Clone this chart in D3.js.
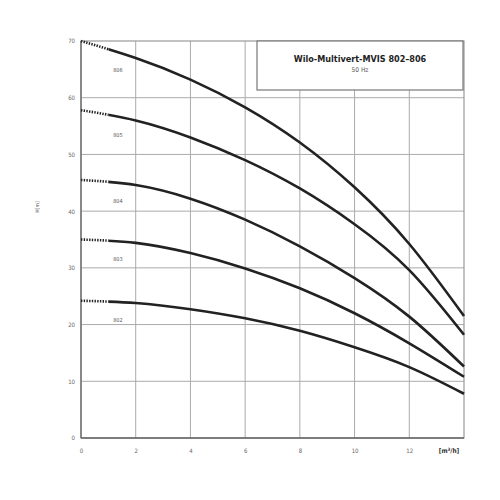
<!DOCTYPE html>
<html><head><meta charset="utf-8">
<script src="https://cdn.jsdelivr.net/npm/d3@7/dist/d3.min.js"></script>
<style>body{margin:0;background:#fff}svg{display:block}</style>
</head><body>
<script>
const flowQ = [0,2,4,6,8,10,12,14];
const pumps = ["806","805","804","803","802"];
const head806 = [70,67.0,63.2,58.3,52.1,44.2,34.2,21.5];
const head805 = [57.8,56.0,53.0,49.0,44.0,37.7,29.6,18.2];
const head804 = [45.5,44.6,42.2,38.5,33.8,28.2,21.4,12.6];
const head803 = [35.0,34.4,32.6,29.9,26.4,22.0,16.7,10.8];
const head802 = [24.2,23.8,22.7,21.1,18.9,16.0,12.5,7.8];
const xTicks = [0,2,4,6,8,10,12];
const yTicks = [0,10,20,30,40,50,60,70];
const dottedUntil = 1;
const titleText = "Wilo-Multivert-MVIS 802–806";
const subText = "50 Hz";

const heads = [head806, head805, head804, head803, head802];
const W = 500, H = 500;
const m = {l:81, r:36, t:41, b:62};
const svg = d3.select("body").append("svg").attr("width",W).attr("height",H);
const x = d3.scaleLinear().domain([0,14]).range([m.l, W-m.r]);
const y = d3.scaleLinear().domain([0,70]).range([H-m.b, m.t]);
const font = "'Liberation Sans Narrow','DejaVu Sans Condensed',sans-serif";

// grid
const g = svg.append("g");
g.selectAll(".vx").data(xTicks.slice(1)).join("line")
  .attr("x1",d=>x(d)).attr("x2",d=>x(d)).attr("y1",y(0)).attr("y2",y(70))
  .attr("stroke","#aaa").attr("stroke-width",1);
g.selectAll(".hy").data(yTicks.slice(1,-1)).join("line")
  .attr("x1",x(0)).attr("x2",x(14)).attr("y1",d=>y(d)).attr("y2",d=>y(d))
  .attr("stroke","#aaa").attr("stroke-width",1);
// border
svg.append("rect").attr("x",x(0)).attr("y",y(70)).attr("width",x(14)-x(0)).attr("height",y(0)-y(70))
  .attr("fill","none").attr("stroke","#999").attr("stroke-width",1.2);
svg.append("line").attr("x1",x(0)).attr("x2",x(0)).attr("y1",y(0)).attr("y2",y(70)).attr("stroke","#888").attr("stroke-width",2);
svg.append("line").attr("x1",x(0)).attr("x2",x(14)).attr("y1",y(0)).attr("y2",y(0)).attr("stroke","#666").attr("stroke-width",1.6);

// axes
const xAxis = d3.axisBottom(x).tickValues(xTicks).tickSize(0).tickPadding(11);
const ax = svg.append("g").attr("transform",`translate(0,${y(0)})`).call(xAxis);
ax.select(".domain").remove();
ax.selectAll("text").attr("font-family",font).attr("font-size",6).attr("fill","#666");
const yAxis = d3.axisLeft(y).tickValues(yTicks).tickSize(0).tickPadding(6);
const ay = svg.append("g").attr("transform",`translate(${x(0)},0)`).call(yAxis);
ay.select(".domain").remove();
ay.selectAll("text").attr("font-family",font).attr("font-size",6).attr("fill","#666");

svg.append("text").attr("x",x(14)-15).attr("y",y(0)+15).attr("text-anchor","middle")
  .attr("font-family",font).attr("font-size",6.5).attr("font-weight","bold").attr("fill","#333")
  .html('[m<tspan dy="-2" font-size="4.5">3</tspan><tspan dy="2">/h]</tspan>');
svg.append("text").attr("transform",`translate(39,207) rotate(-90)`).attr("text-anchor","middle")
  .attr("font-family",font).attr("font-size",5).attr("fill","#444").text("H[m]");

// clips
const defs = svg.append("defs");
defs.append("clipPath").attr("id","cDot").append("rect")
  .attr("x",0).attr("y",0).attr("width",x(dottedUntil)).attr("height",H);
defs.append("clipPath").attr("id","cSolid").append("rect")
  .attr("x",x(dottedUntil)).attr("y",0).attr("width",W).attr("height",H);

// curves
const line = d3.line().x(d=>x(d[0])).y(d=>y(d[1])).curve(d3.curveNatural);
heads.forEach((hs,i)=>{
  const pts = flowQ.map((q,j)=>[q,hs[j]]);
  const dStr = line(pts);
  svg.append("path").attr("d",dStr).attr("clip-path","url(#cDot)")
    .attr("fill","none").attr("stroke","#222").attr("stroke-width",2.6).attr("stroke-dasharray","1.4,1.3");
  svg.append("path").attr("d",dStr).attr("clip-path","url(#cSolid)")
    .attr("fill","none").attr("stroke","#222").attr("stroke-width",2.6);
  const hAt = d3.interpolateNumber(hs[0], hs[1])(0.7);
  svg.append("text").attr("x",x(1.35)).attr("y",y(hAt) + 19.5)
    .attr("text-anchor","middle").attr("font-family",font).attr("font-size",5.5)
    .attr("fill","#555").text(pumps[i]);
});

// title box
const bx0 = 257, bx1 = x(14) - 1;
svg.append("rect").attr("x",bx0).attr("y",y(70)).attr("width",bx1-bx0).attr("height",90-y(70))
  .attr("fill","#fff").attr("stroke","#777").attr("stroke-width",1.2);
svg.append("text").attr("x",(bx0+bx1)/2).attr("y",62).attr("text-anchor","middle")
  .attr("font-family",font).attr("font-size",9).attr("font-weight","bold").attr("fill","#222").text(titleText);
svg.append("text").attr("x",(bx0+bx1)/2).attr("y",72).attr("text-anchor","middle")
  .attr("font-family",font).attr("font-size",6.5).attr("fill","#555").text(subText);
</script>
</body></html>
